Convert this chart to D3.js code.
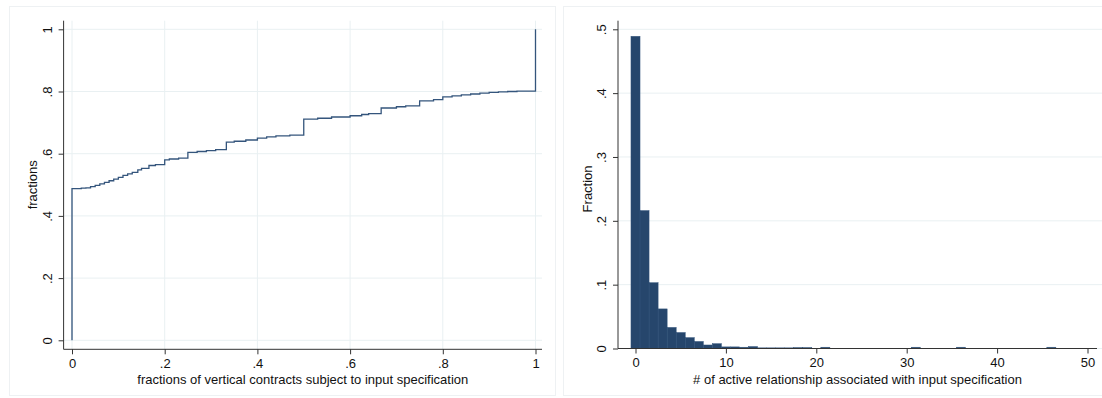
<!DOCTYPE html>
<html>
<head>
<meta charset="utf-8">
<script src="https://cdn.jsdelivr.net/npm/d3@7"></script>
<style>
body { margin: 0; background: #fff; }
svg text { font-family: "Liberation Sans", Arial, Helvetica, sans-serif; fill: #111; }
</style>
</head>
<body>
<div id="chart"></div>
<script>
var w = 1102;
var h = 398;

// left panel: step curve of fractions
var cdfX = [0, 0, 0.02, 0.03, 0.04, 0.05, 0.06, 0.07, 0.08, 0.09, 0.1, 0.11, 0.12, 0.13, 0.142, 0.15, 0.166, 0.18, 0.2, 0.21, 0.23, 0.25, 0.27, 0.29, 0.31, 0.333, 0.35, 0.375, 0.4, 0.42, 0.44, 0.47, 0.5, 0.53, 0.56, 0.6, 0.625, 0.64, 0.667, 0.7, 0.72, 0.75, 0.78, 0.8, 0.82, 0.84, 0.86, 0.88, 0.9, 0.92, 0.94, 0.96, 1, 1];
var cdfY = [0, 0.488, 0.489, 0.49, 0.494, 0.498, 0.503, 0.508, 0.513, 0.518, 0.524, 0.53, 0.535, 0.54, 0.548, 0.553, 0.562, 0.565, 0.58, 0.583, 0.586, 0.604, 0.607, 0.61, 0.613, 0.637, 0.64, 0.644, 0.65, 0.654, 0.657, 0.66, 0.711, 0.714, 0.718, 0.722, 0.726, 0.729, 0.747, 0.751, 0.754, 0.77, 0.774, 0.783, 0.786, 0.789, 0.792, 0.795, 0.797, 0.799, 0.8, 0.801, 0.801, 1];
var leftXTicks = [0, 0.2, 0.4, 0.6, 0.8, 1];
var leftYTicks = [0, 0.2, 0.4, 0.6, 0.8, 1];

// right panel: histogram, bins of width 1 centred on integers
var binCenters = [0, 1, 2, 3, 4, 5, 6, 7, 8, 9, 10, 11, 12, 13, 14, 15, 16, 17, 18, 19, 21, 31, 36, 46];
var binFractions = [0.489, 0.216, 0.103, 0.062, 0.033, 0.025, 0.017, 0.011, 0.0055, 0.0075, 0.0025, 0.0025, 0.002, 0.003, 0.001, 0.001, 0.001, 0.001, 0.0015, 0.0015, 0.002, 0.002, 0.002, 0.002];
var rightXTicks = [0, 10, 20, 30, 40, 50];
var rightYTicks = [0, 0.1, 0.2, 0.3, 0.4, 0.5];

var lineColor = "#34557c";
var barColor = "#26466c";
var gridColor = "#e9f0f2";
var frameColor = "#eef1f3";
var axisColor = "#333";

var fmt = function(d) {
  if (d === 0) return "0";
  if (d === 1) return "1";
  return d3.format(".1f")(d).replace(/^0/, "");
};

var svg = d3.select("#chart").append("svg")
            .attr("width", w)
            .attr("height", h);

// panel frames
svg.append("rect").attr("x", 9.5).attr("y", 6.5).attr("width", 546).attr("height", 389)
   .attr("fill", "none").attr("stroke", frameColor);
svg.append("rect").attr("x", 563.5).attr("y", 6.5).attr("width", 560).attr("height", 389)
   .attr("fill", "none").attr("stroke", frameColor);

var styleAxis = function(g) {
  g.select(".domain").remove();
  g.selectAll(".tick line").attr("stroke", axisColor);
  g.selectAll(".tick text").style("font-size", "13px").attr("fill", "#111");
};

// ---------- left panel ----------
var x1 = d3.scaleLinear().domain([0, 1]).range([72, 535.5]);
var y1 = d3.scaleLinear().domain([0, 1]).range([340.3, 29.3]);
var L = { left: 63.6, right: 542, top: 20.7, bottom: 349.3 };

svg.append("g").selectAll("line.vg")
   .data(leftXTicks).enter().append("line")
   .attr("x1", function(d) { return x1(d); }).attr("x2", function(d) { return x1(d); })
   .attr("y1", L.top).attr("y2", L.bottom)
   .attr("stroke", gridColor).attr("stroke-width", 1);
svg.append("g").selectAll("line.hg")
   .data(leftYTicks).enter().append("line")
   .attr("x1", L.left).attr("x2", L.right)
   .attr("y1", function(d) { return y1(d); }).attr("y2", function(d) { return y1(d); })
   .attr("stroke", gridColor).attr("stroke-width", 1);

var cdf = cdfX.map(function(d, i) { return [d, cdfY[i]]; });
svg.append("path")
   .datum(cdf)
   .attr("d", d3.line()
     .x(function(d) { return x1(d[0]); })
     .y(function(d) { return y1(d[1]); })
     .curve(d3.curveStepAfter))
   .attr("fill", "none")
   .attr("stroke", lineColor)
   .attr("stroke-width", 1.3);

svg.append("g")
   .attr("transform", "translate(0," + L.bottom + ")")
   .call(d3.axisBottom(x1).tickValues(leftXTicks).tickFormat(fmt).tickSize(5).tickPadding(4))
   .call(styleAxis);
svg.append("line").attr("x1", L.left).attr("x2", L.right).attr("y1", L.bottom).attr("y2", L.bottom)
   .attr("stroke", axisColor);

var yAxL = svg.append("g")
   .attr("transform", "translate(" + L.left + ",0)")
   .call(d3.axisLeft(y1).tickValues(leftYTicks).tickFormat(fmt).tickSize(5))
   .call(styleAxis);
yAxL.selectAll(".tick text")
    .attr("x", 0).attr("dy", null)
    .attr("transform", "translate(-12,0) rotate(-90)")
    .attr("text-anchor", "middle");
svg.append("line").attr("x1", L.left).attr("x2", L.left).attr("y1", L.top).attr("y2", L.bottom)
   .attr("stroke", axisColor);

svg.append("text")
   .attr("x", (L.left + L.right) / 2 + 0).attr("y", 384)
   .attr("text-anchor", "middle").style("font-size", "13px")
   .text("fractions of vertical contracts subject to input specification");
svg.append("text")
   .attr("transform", "translate(37," + ((29.3 + 340.3) / 2) + ") rotate(-90)")
   .attr("text-anchor", "middle").style("font-size", "13px")
   .text("fractions");

// ---------- right panel ----------
var x2 = d3.scaleLinear().domain([0, 50]).range([635.5, 1087.5]);
var y2 = d3.scaleLinear().domain([0, 0.5]).range([348.5, 29.3]);
var R = { left: 618, right: 1097, top: 20.7, bottom: 348.5 };

svg.append("g").selectAll("line.hg2")
   .data(rightYTicks).enter().append("line")
   .attr("x1", R.left).attr("x2", R.right + 10)
   .attr("y1", function(d) { return y2(d); }).attr("y2", function(d) { return y2(d); })
   .attr("stroke", gridColor).attr("stroke-width", 1);

var bins = binCenters.map(function(d, i) { return { c: d, f: binFractions[i] }; });
svg.append("g").selectAll("rect")
   .data(bins).enter().append("rect")
   .attr("x", function(d) { return x2(d.c - 0.5); })
   .attr("width", function(d) { return x2(d.c + 0.5) - x2(d.c - 0.5); })
   .attr("y", function(d) { return y2(d.f); })
   .attr("height", function(d) { return y2(0) - y2(d.f); })
   .attr("fill", barColor)
   .attr("stroke", "#30527a")
   .attr("stroke-width", 0.5);

svg.append("g")
   .attr("transform", "translate(0," + R.bottom + ")")
   .call(d3.axisBottom(x2).tickValues(rightXTicks).tickFormat(d3.format("d")).tickSize(5).tickPadding(4))
   .call(styleAxis);
svg.append("line").attr("x1", R.left).attr("x2", R.right).attr("y1", R.bottom).attr("y2", R.bottom)
   .attr("stroke", axisColor);

var yAxR = svg.append("g")
   .attr("transform", "translate(" + R.left + ",0)")
   .call(d3.axisLeft(y2).tickValues(rightYTicks).tickFormat(fmt).tickSize(5))
   .call(styleAxis);
yAxR.selectAll(".tick text")
    .attr("x", 0).attr("dy", null)
    .attr("transform", "translate(-12,0) rotate(-90)")
    .attr("text-anchor", "middle");
svg.append("line").attr("x1", R.left).attr("x2", R.left).attr("y1", R.top).attr("y2", R.bottom)
   .attr("stroke", axisColor);

svg.append("text")
   .attr("x", (R.left + R.right) / 2).attr("y", 384)
   .attr("text-anchor", "middle").style("font-size", "13px")
   .text("# of active relationship associated with input specification");
svg.append("text")
   .attr("transform", "translate(592," + ((29.3 + 348.5) / 2) + ") rotate(-90)")
   .attr("text-anchor", "middle").style("font-size", "13px")
   .text("Fraction");
</script>
</body>
</html>
